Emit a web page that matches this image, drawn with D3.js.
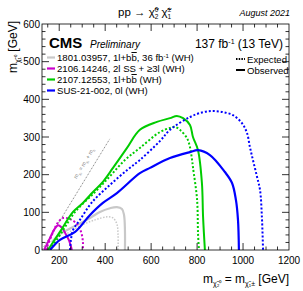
<!DOCTYPE html>
<html>
<head>
<meta charset="utf-8">
<script src="https://cdn.jsdelivr.net/npm/d3@7"></script>
<style>
  body { margin: 0; background: #fff; }
  text { font-family: "Liberation Sans", Arial, sans-serif; }
</style>
</head>
<body>
<svg id="svg" width="303" height="291"></svg>
<script>
// data: [m(chi2) = m(chi1+-), m(LSP)] in GeV
var grayObs = [[168,21],[203,42],[269,64],[334,85],[377,101],[421,111],[451,114],[473,109],[482,93],[486,53],[486,0]];
var grayExp = [[225,40],[290,64],[356,80],[408,88],[434,85],[451,69],[456,40],[456,0]];
var magObs = [[134,0],[160,32],[180,56],[195,66],[210,60],[226,45],[243,25],[255,0]];
var magExp = [[142,0],[168,40],[190,69],[216,85],[247,82],[277,69],[295,48],[303,21],[303,0]];
var greenObs = [[151,0],[203,48],[260,101],[303,125],[347,154],[390,181],[434,218],[495,271],[551,319],[625,340],[682,350],[712,356],[739,350],[769,332],[782,300],[804,265],[821,178],[826,88],[834,0]];
var greenExp = [[160,0],[212,48],[269,101],[356,154],[421,196],[486,239],[551,271],[638,313],[682,324],[704,327],[725,319],[756,297],[769,273],[778,239],[782,220],[800,133],[804,45],[808,0]];
var blueObs = [[160,0],[203,27],[269,48],[334,93],[390,125],[451,151],[551,204],[595,218],[682,244],[769,260],[804,265],[856,252],[921,207],[952,178],[969,133],[978,80],[982,0]];
var blueExp = [[247,0],[251,27],[260,53],[290,80],[343,127],[421,173],[495,212],[551,239],[638,289],[682,319],[769,353],[826,366],[869,369],[913,366],[956,358],[995,337],[1017,311],[1030,273],[1043,239],[1061,194],[1074,159],[1082,88],[1087,0]];
var diagLine = [[125,0],[420,295]];

var xTicks = [200, 400, 600, 800, 1000, 1200];
var yTicks = [0, 100, 200, 300, 400, 500, 600];

var legendItems = [
  { label: "1801.03957, 1l+b", bar: "b", tail: ", 36 fb", sup: "-1", end: " (WH)", color: "#c8c8c8" },
  { label: "2106.14246, 2l SS + \u22653l (WH)", color: "#cc00cc" },
  { label: "2107.12553, 1l+b", bar: "b", tail: " (WH)", color: "#00cc00" },
  { label: "SUS-21-002, 0l (WH)", color: "#0000ff" }
];

var curves = [
  { pts: grayExp, color: "#c8c8c8", dash: "1.5,1.5", w: 1.5 },
  { pts: grayObs, color: "#c8c8c8", dash: null, w: 2.2 },
  { pts: magExp, color: "#cc00cc", dash: "2,2", w: 2 },
  { pts: magObs, color: "#cc00cc", dash: null, w: 2 },
  { pts: greenExp, color: "#00cc00", dash: "2,2", w: 2 },
  { pts: greenObs, color: "#00cc00", dash: null, w: 2 },
  { pts: blueExp, color: "#0000ff", dash: "2,2", w: 2 },
  { pts: blueObs, color: "#0000ff", dash: null, w: 2.2 }
];

var svg = d3.select("#svg");
var L = 42, R = 289, T = 24, B = 250;

var x = d3.scaleLinear().domain([125, 1200]).range([L, R]);
var y = d3.scaleLinear().domain([0, 600]).range([B, T]);

var plot = svg.append("g");
plot.append("clipPath").attr("id", "clip")
  .append("rect").attr("x", L).attr("y", T).attr("width", R - L).attr("height", B - T);

// m(chi2) = m(chi1) + m(h) line
plot.append("line")
  .attr("x1", x(diagLine[0][0])).attr("y1", y(diagLine[0][1]))
  .attr("x2", x(diagLine[1][0])).attr("y2", y(diagLine[1][1]))
  .attr("stroke", "#777").attr("stroke-width", 0.8).attr("stroke-dasharray", "2,1.5");

var ang = Math.atan2(y(0) - y(100), x(100) - x(0)) * 180 / Math.PI;
var lab = plot.append("text")
  .attr("transform", "translate(" + (x(345) - 7) + "," + (y(225) - 1) + ") rotate(" + (-ang) + ")")
  .attr("font-size", 5.5).attr("fill", "#777").attr("text-anchor", "middle");
lab.append("tspan").text("m");
lab.append("tspan").attr("font-size", 3.5).attr("dy", 1.5).text("\u03c7\u2082");
lab.append("tspan").attr("dy", -1.5).text(" = m");
lab.append("tspan").attr("font-size", 3.5).attr("dy", 1.5).text("\u03c7\u2081");
lab.append("tspan").attr("dy", -1.5).text(" + m");
lab.append("tspan").attr("font-size", 3.5).attr("dy", 1.5).text("h");

var lineC = d3.line().x(function(d) { return x(d[0]); }).y(function(d) { return y(d[1]); })
  .curve(d3.curveCatmullRom.alpha(0.5));

var cg = plot.append("g").attr("clip-path", "url(#clip)");
curves.forEach(function(c) {
  cg.append("path").datum(c.pts)
    .attr("d", lineC)
    .attr("fill", "none")
    .attr("stroke", c.color)
    .attr("stroke-width", c.w)
    .attr("stroke-dasharray", c.dash);
});

// frame + ticks (ROOT style: ticks inside, all 4 sides)
var axes = svg.append("g").attr("stroke", "#000").attr("stroke-width", 0.8);
axes.append("rect").attr("x", L).attr("y", T).attr("width", R - L).attr("height", B - T).attr("fill", "none");

var xMinor = d3.range(150, 1200, 50);
xMinor.forEach(function(v) {
  var len = xTicks.indexOf(v) >= 0 ? 7 : 3.5;
  axes.append("line").attr("x1", x(v)).attr("x2", x(v)).attr("y1", B).attr("y2", B - len);
  axes.append("line").attr("x1", x(v)).attr("x2", x(v)).attr("y1", T).attr("y2", T + len);
});
var yMinor = d3.range(20, 600, 20);
yMinor.forEach(function(v) {
  var len = yTicks.indexOf(v) >= 0 ? 7 : 3.5;
  axes.append("line").attr("x1", L).attr("x2", L + len).attr("y1", y(v)).attr("y2", y(v));
  axes.append("line").attr("x1", R).attr("x2", R - len).attr("y1", y(v)).attr("y2", y(v));
});

svg.append("g").selectAll("text").data(xTicks).enter().append("text")
  .attr("x", function(d) { return x(d); }).attr("y", B + 14)
  .attr("text-anchor", "middle").attr("font-size", 10).text(function(d) { return d; });
svg.append("g").selectAll("text").data(yTicks).enter().append("text")
  .attr("x", L - 2).attr("y", function(d) { return y(d) + 3.5; })
  .attr("text-anchor", "end").attr("font-size", 10).text(function(d) { return d; });

// axis titles
var xt = svg.append("text").attr("x", R).attr("y", 283).attr("text-anchor", "end").attr("font-size", 12);
xt.append("tspan").text("m");
xt.append("tspan").attr("font-size", 7).attr("dy", 3).text("\u03c7\u0303\u2082\u2070");
xt.append("tspan").attr("dy", -3).text(" = m");
xt.append("tspan").attr("font-size", 7).attr("dy", 3).text("\u03c7\u0303\u2081\u00b1");
xt.append("tspan").attr("dy", -3).text(" [GeV]");

var yt = svg.append("text").attr("transform", "translate(17," + (T - 3) + ") rotate(-90)")
  .attr("text-anchor", "end").attr("font-size", 12);
yt.append("tspan").text("m");
yt.append("tspan").attr("font-size", 7).attr("dy", 3).text("\u03c7\u0303\u2081\u2070");
yt.append("tspan").attr("dy", -3).text(" [GeV]");

// header: stacked super/subscripts
var title = svg.append("text").attr("x", 118).attr("y", 16).attr("font-size", 11.5);
title.append("tspan").text("pp \u2192 \u03c7\u0303");
title.append("tspan").attr("font-size", 6.5).attr("dy", -4).text("0");
title.append("tspan").attr("font-size", 6.5).attr("dx", -3.6).attr("dy", 7).text("2");
title.append("tspan").attr("dy", -3).text(" \u03c7\u0303");
title.append("tspan").attr("font-size", 6.5).attr("dy", -4).text("\u00b1");
title.append("tspan").attr("font-size", 6.5).attr("dx", -3.8).attr("dy", 7).text("1");
svg.append("text").attr("x", R + 1).attr("y", 16).attr("text-anchor", "end")
  .attr("font-size", 9).attr("font-style", "italic").text("August 2021");

svg.append("text").attr("x", 49).attr("y", 48).attr("font-size", 15).attr("font-weight", "bold").text("CMS");
svg.append("text").attr("x", 90).attr("y", 48).attr("font-size", 10).attr("font-style", "italic").text("Preliminary");
var lumi = svg.append("text").attr("x", 283).attr("y", 48).attr("text-anchor", "end").attr("font-size", 12);
lumi.append("tspan").text("137 fb");
lumi.append("tspan").attr("font-size", 7).attr("dy", -4).text("-1");
lumi.append("tspan").attr("dy", 4).text(" (13 TeV)");

// legend
var leg = svg.append("g");
legendItems.forEach(function(d, i) {
  var ly = 61 + i * 11;
  leg.append("line").attr("x1", 47).attr("x2", 55).attr("y1", ly - 3.5).attr("y2", ly - 3.5)
    .attr("stroke", d.color).attr("stroke-width", 2.2);
  var t = leg.append("text").attr("x", 57).attr("y", ly).attr("font-size", 9.6);
  t.append("tspan").text(d.label);
  if (d.bar) {
    t.append("tspan").attr("text-decoration", "overline").text(d.bar);
    t.append("tspan").text(d.tail);
    if (d.sup) {
      t.append("tspan").attr("font-size", 6).attr("dy", -3).text(d.sup);
      t.append("tspan").attr("dy", 3).text(d.end);
    }
  }
});

var legR = svg.append("g");
legR.append("line").attr("x1", 236).attr("x2", 245).attr("y1", 59).attr("y2", 59)
  .attr("stroke", "#000").attr("stroke-width", 2).attr("stroke-dasharray", "1.5,1.2");
legR.append("text").attr("x", 247).attr("y", 62.5).attr("font-size", 9.6).text("Expected");
legR.append("line").attr("x1", 236).attr("x2", 245).attr("y1", 70).attr("y2", 70)
  .attr("stroke", "#000").attr("stroke-width", 2);
legR.append("text").attr("x", 247).attr("y", 73.5).attr("font-size", 9.6).text("Observed");
</script>
</body>
</html>
